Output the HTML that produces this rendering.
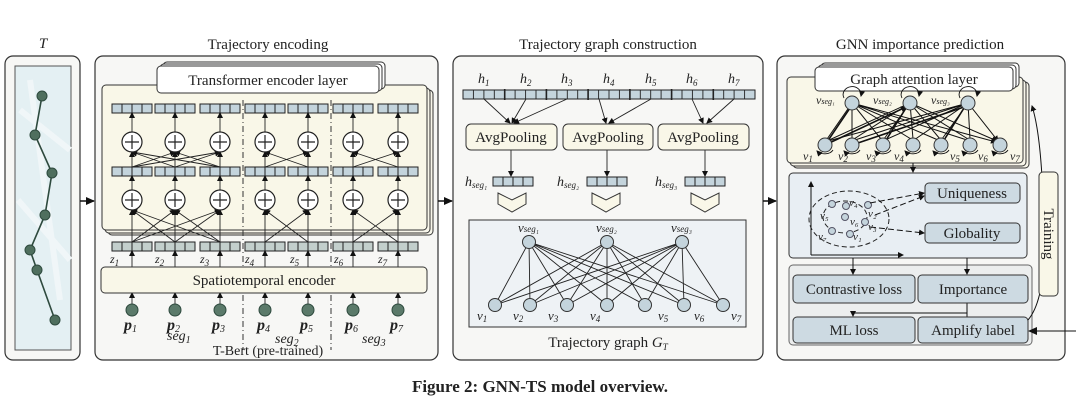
<!DOCTYPE html>
<html><head><meta charset="utf-8"><style>
html,body{margin:0;padding:0;background:#fff;}
svg{display:block;}
text{font-family:"Liberation Serif",serif;fill:#222;}
.i{font-style:italic;}
</style></head><body>
<svg width="1080" height="404" viewBox="0 0 1080 404" xmlns="http://www.w3.org/2000/svg">
<defs>
<g id="v4"><rect width="40" height="9" fill="#c4d4dc" stroke="#222" stroke-width="1"/><path d="M10 0v9M20 0v9M30 0v9" stroke="#222"/></g>
<g id="z4"><rect width="40" height="9" fill="#c3cfcc" stroke="#222" stroke-width="1"/><path d="M10 0v9M20 0v9M30 0v9" stroke="#222"/></g>
<g id="op"><circle r="10" fill="#fff" stroke="#222" stroke-width="1.2"/><path d="M-7 0h14M0 -7v14" stroke="#222" stroke-width="1.2"/></g>
<marker id="a" markerWidth="6" markerHeight="6" refX="5" refY="3" orient="auto" markerUnits="userSpaceOnUse"><path d="M0 0L6 3L0 6z" fill="#111"/></marker>
<marker id="b" markerWidth="9" markerHeight="8" refX="8" refY="4" orient="auto" markerUnits="userSpaceOnUse"><path d="M0 0L9 4L0 8z" fill="#111"/></marker>
</defs>

<!-- Titles -->
<text x="43" y="48" font-size="15" class="i" text-anchor="middle">T</text>
<text x="268" y="49" font-size="15" text-anchor="middle">Trajectory encoding</text>
<text x="608" y="49" font-size="15" text-anchor="middle">Trajectory graph construction</text>
<text x="920" y="49" font-size="15" text-anchor="middle">GNN importance prediction</text>

<!-- Panel T -->
<rect x="5" y="56" width="75" height="304" rx="8" fill="#f7f7f5" stroke="#333" stroke-width="1.2"/>
<rect x="15" y="66" width="56" height="284" fill="#e4f0f3" stroke="#555"/>
<path d="M20 110 L70 150 M18 200 L70 260 M30 80 L60 300" stroke="#f0f6f8" stroke-width="6" fill="none"/>
<polyline points="42,96 35,135 52,173 45,215 30,250 37,270 55,320" fill="none" stroke="#2e4a3e" stroke-width="1.6"/>
<g fill="#4f6f5e" stroke="#2e4a3e"><circle cx="42" cy="96" r="5"/><circle cx="35" cy="135" r="5"/><circle cx="52" cy="173" r="5"/><circle cx="45" cy="215" r="5"/><circle cx="30" cy="250" r="5"/><circle cx="37" cy="270" r="5"/><circle cx="55" cy="320" r="5"/></g>
<line x1="80" y1="201" x2="94" y2="201" stroke="#111" stroke-width="1.5" marker-end="url(#b)"/>

<!-- Panel encoding -->
<rect x="95" y="56" width="343" height="304" rx="8" fill="#f7f7f5" stroke="#333" stroke-width="1.2"/>
<rect x="108" y="90" width="325" height="145" rx="4" fill="#f8f6ea" stroke="#333"/>
<rect x="105" y="88" width="325" height="145" rx="4" fill="#f8f6ea" stroke="#333"/>
<rect x="102" y="85" width="325" height="145" rx="4" fill="#f9f7e8" stroke="#333"/>
<rect x="163" y="62" width="222" height="27" rx="4" fill="#fff" stroke="#333"/>
<rect x="160" y="64" width="222" height="27" rx="4" fill="#fff" stroke="#333"/>
<rect x="157" y="66" width="222" height="27" rx="4" fill="#fff" stroke="#333"/>
<text x="268" y="85" font-size="15" text-anchor="middle">Transformer encoder layer</text>
<path d="M243 100V350M331 100V350" stroke="#333" stroke-dasharray="6,3,1,3" fill="none"/>
<g>
<use href="#v4" x="112" y="104"/><use href="#v4" x="155" y="104"/><use href="#v4" x="200" y="104"/><use href="#v4" x="245" y="104"/><use href="#v4" x="288" y="104"/><use href="#v4" x="333" y="104"/><use href="#v4" x="378" y="104"/>
<use href="#v4" x="112" y="167"/><use href="#v4" x="155" y="167"/><use href="#v4" x="200" y="167"/><use href="#v4" x="245" y="167"/><use href="#v4" x="288" y="167"/><use href="#v4" x="333" y="167"/><use href="#v4" x="378" y="167"/>
<use href="#z4" x="112" y="242"/><use href="#z4" x="155" y="242"/><use href="#z4" x="200" y="242"/><use href="#z4" x="245" y="242"/><use href="#z4" x="288" y="242"/><use href="#z4" x="333" y="242"/><use href="#z4" x="378" y="242"/>
</g>
<g stroke="#222" stroke-width="0.9" fill="none" marker-end="url(#a)">
<line x1="132" y1="132" x2="132" y2="113"/><line x1="175" y1="132" x2="175" y2="113"/><line x1="220" y1="132" x2="220" y2="113"/><line x1="265" y1="132" x2="265" y2="113"/><line x1="308" y1="132" x2="308" y2="113"/><line x1="353" y1="132" x2="353" y2="113"/><line x1="398" y1="132" x2="398" y2="113"/>
<line x1="132" y1="190" x2="132" y2="176"/><line x1="175" y1="190" x2="175" y2="176"/><line x1="220" y1="190" x2="220" y2="176"/><line x1="265" y1="190" x2="265" y2="176"/><line x1="308" y1="190" x2="308" y2="176"/><line x1="353" y1="190" x2="353" y2="176"/><line x1="398" y1="190" x2="398" y2="176"/>
<line x1="132" y1="167" x2="132" y2="152"/><line x1="132" y1="167" x2="175" y2="152"/><line x1="132" y1="167" x2="220" y2="152"/>
<line x1="175" y1="167" x2="132" y2="152"/><line x1="175" y1="167" x2="175" y2="152"/><line x1="175" y1="167" x2="220" y2="152"/>
<line x1="220" y1="167" x2="132" y2="152"/><line x1="220" y1="167" x2="175" y2="152"/><line x1="220" y1="167" x2="220" y2="152"/>
<line x1="265" y1="167" x2="265" y2="152"/><line x1="265" y1="167" x2="308" y2="152"/><line x1="308" y1="167" x2="265" y2="152"/><line x1="308" y1="167" x2="308" y2="152"/>
<line x1="353" y1="167" x2="353" y2="152"/><line x1="353" y1="167" x2="398" y2="152"/><line x1="398" y1="167" x2="353" y2="152"/><line x1="398" y1="167" x2="398" y2="152"/>
<line x1="132" y1="242" x2="132" y2="210"/><line x1="132" y1="242" x2="175" y2="210"/><line x1="132" y1="242" x2="220" y2="210"/>
<line x1="175" y1="242" x2="132" y2="210"/><line x1="175" y1="242" x2="175" y2="210"/><line x1="175" y1="242" x2="220" y2="210"/>
<line x1="220" y1="242" x2="132" y2="210"/><line x1="220" y1="242" x2="175" y2="210"/><line x1="220" y1="242" x2="220" y2="210"/>
<line x1="265" y1="242" x2="265" y2="210"/><line x1="265" y1="242" x2="308" y2="210"/><line x1="308" y1="242" x2="265" y2="210"/><line x1="308" y1="242" x2="308" y2="210"/>
<line x1="353" y1="242" x2="353" y2="210"/><line x1="353" y1="242" x2="398" y2="210"/><line x1="398" y1="242" x2="353" y2="210"/><line x1="398" y1="242" x2="398" y2="210"/>
<line x1="132" y1="267" x2="132" y2="251"/><line x1="175" y1="267" x2="175" y2="251"/><line x1="220" y1="267" x2="220" y2="251"/><line x1="265" y1="267" x2="265" y2="251"/><line x1="308" y1="267" x2="308" y2="251"/><line x1="353" y1="267" x2="353" y2="251"/><line x1="398" y1="267" x2="398" y2="251"/>
<line x1="132" y1="304" x2="132" y2="293"/><line x1="175" y1="304" x2="175" y2="293"/><line x1="220" y1="304" x2="220" y2="293"/><line x1="265" y1="304" x2="265" y2="293"/><line x1="308" y1="304" x2="308" y2="293"/><line x1="353" y1="304" x2="353" y2="293"/><line x1="398" y1="304" x2="398" y2="293"/>
</g>
<use href="#op" x="132" y="142"/><use href="#op" x="175" y="142"/><use href="#op" x="220" y="142"/><use href="#op" x="265" y="142"/><use href="#op" x="308" y="142"/><use href="#op" x="353" y="142"/><use href="#op" x="398" y="142"/>
<use href="#op" x="132" y="200"/><use href="#op" x="175" y="200"/><use href="#op" x="220" y="200"/><use href="#op" x="265" y="200"/><use href="#op" x="308" y="200"/><use href="#op" x="353" y="200"/><use href="#op" x="398" y="200"/>
<g font-size="12" class="i" fill="#555">
<text x="110" y="263">z<tspan font-size="9" dy="3">1</tspan></text><text x="155" y="263">z<tspan font-size="9" dy="3">2</tspan></text><text x="200" y="263">z<tspan font-size="9" dy="3">3</tspan></text><text x="245" y="263">z<tspan font-size="9" dy="3">4</tspan></text><text x="290" y="263">z<tspan font-size="9" dy="3">5</tspan></text><text x="334" y="263">z<tspan font-size="9" dy="3">6</tspan></text><text x="378" y="263">z<tspan font-size="9" dy="3">7</tspan></text>
</g>
<rect x="101" y="267" width="326" height="26" rx="4" fill="#f9f7e8" stroke="#333"/>
<text x="264" y="285" font-size="15" text-anchor="middle">Spatiotemporal encoder</text>
<g fill="#5b7a6a" stroke="#2e4a3e"><circle cx="132" cy="310" r="6"/><circle cx="175" cy="310" r="6"/><circle cx="220" cy="310" r="6"/><circle cx="265" cy="310" r="6"/><circle cx="308" cy="310" r="6"/><circle cx="353" cy="310" r="6"/><circle cx="398" cy="310" r="6"/></g>
<g font-size="16" class="i" font-weight="bold">
<text x="124" y="330">p<tspan font-size="10" dy="2" font-weight="normal">1</tspan></text><text x="167" y="330">p<tspan font-size="10" dy="2" font-weight="normal">2</tspan></text><text x="212" y="330">p<tspan font-size="10" dy="2" font-weight="normal">3</tspan></text><text x="257" y="330">p<tspan font-size="10" dy="2" font-weight="normal">4</tspan></text><text x="300" y="330">p<tspan font-size="10" dy="2" font-weight="normal">5</tspan></text><text x="345" y="330">p<tspan font-size="10" dy="2" font-weight="normal">6</tspan></text><text x="390" y="330">p<tspan font-size="10" dy="2" font-weight="normal">7</tspan></text>
</g>
<g font-size="14" class="i"><text x="167" y="340">seg<tspan font-size="10" dy="3">1</tspan></text><text x="275" y="343">seg<tspan font-size="10" dy="3">2</tspan></text><text x="362" y="343">seg<tspan font-size="10" dy="3">3</tspan></text></g>
<text x="268" y="355" font-size="14" text-anchor="middle">T-Bert (pre-trained)</text>
<line x1="438" y1="201" x2="452" y2="201" stroke="#111" stroke-width="1.5" marker-end="url(#b)"/>

<!-- Panel graph construction -->
<rect x="453" y="56" width="310" height="304" rx="8" fill="#f7f7f5" stroke="#333" stroke-width="1.2"/>
<g font-size="14" class="i">
<text x="478" y="83">h<tspan font-size="9" dy="3">1</tspan></text><text x="520" y="83">h<tspan font-size="9" dy="3">2</tspan></text><text x="561" y="83">h<tspan font-size="9" dy="3">3</tspan></text><text x="603" y="83">h<tspan font-size="9" dy="3">4</tspan></text><text x="645" y="83">h<tspan font-size="9" dy="3">5</tspan></text><text x="686" y="83">h<tspan font-size="9" dy="3">6</tspan></text><text x="728" y="83">h<tspan font-size="9" dy="3">7</tspan></text>
</g>
<rect x="463" y="90" width="292" height="9" fill="#c4d4dc" stroke="#222"/>
<path d="M473.4 90v9M483.9 90v9M494.3 90v9M504.7 90v9M515.1 90v9M525.6 90v9M536 90v9M546.4 90v9M556.9 90v9M567.3 90v9M577.7 90v9M588.1 90v9M598.6 90v9M609 90v9M619.4 90v9M629.9 90v9M640.3 90v9M650.7 90v9M661.1 90v9M671.6 90v9M682 90v9M692.4 90v9M702.9 90v9M713.3 90v9M723.7 90v9M734.1 90v9M744.6 90v9" stroke="#222" stroke-width="0.9"/>
<path d="M504.7 89v11M546.4 89v11M588.1 89v11M629.9 89v11M671.6 89v11M713.3 89v11" stroke="#222" stroke-width="1.6"/>
<g stroke="#222" stroke-width="0.9" marker-end="url(#a)">
<line x1="484" y1="99" x2="510" y2="123"/><line x1="526" y1="99" x2="512" y2="123"/><line x1="567" y1="99" x2="514" y2="123"/>
<line x1="599" y1="99" x2="606" y2="123"/><line x1="651" y1="99" x2="609" y2="123"/>
<line x1="692" y1="99" x2="703" y2="123"/><line x1="734" y1="99" x2="707" y2="123"/>
<line x1="511" y1="150" x2="511" y2="176"/><line x1="607" y1="150" x2="607" y2="176"/><line x1="705" y1="150" x2="705" y2="176"/>
</g>
<g fill="#f9f7e8" stroke="#333"><rect x="466" y="124" width="91" height="26" rx="5"/><rect x="563" y="124" width="90" height="26" rx="5"/><rect x="658" y="124" width="91" height="26" rx="5"/></g>
<g font-size="15" text-anchor="middle"><text x="511" y="142">AvgPooling</text><text x="608" y="142">AvgPooling</text><text x="703" y="142">AvgPooling</text></g>
<use href="#v4" x="493" y="177"/><use href="#v4" x="587" y="177"/><use href="#v4" x="685" y="177"/>
<g font-size="14" class="i"><text x="465" y="186">h<tspan font-size="9" dy="2">seg₁</tspan></text><text x="557" y="186">h<tspan font-size="9" dy="2">seg₂</tspan></text><text x="655" y="186">h<tspan font-size="9" dy="2">seg₃</tspan></text></g>
<g fill="#f9f7e8" stroke="#333"><path d="M498 193 L512 200 L526 193 L526 204 L512 212 L498 204Z"/><path d="M592 193 L606 200 L620 193 L620 204 L606 212 L592 204Z"/><path d="M691 193 L705 200 L719 193 L719 204 L705 212 L691 204Z"/></g>
<rect x="469" y="220" width="277" height="107" fill="#eef2f5" stroke="#333"/>
<g stroke="#222" stroke-width="0.9">
<path d="M529 242L495 305M529 242L530 305M529 242L567 305M529 242L607 305M529 242L645 305M529 242L684 305M529 242L723 305"/>
<path d="M607 242L495 305M607 242L530 305M607 242L567 305M607 242L607 305M607 242L645 305M607 242L684 305M607 242L723 305"/>
<path d="M682 242L495 305M682 242L530 305M682 242L567 305M682 242L607 305M682 242L645 305M682 242L684 305M682 242L723 305"/>
</g>
<g fill="#c4d4dc" stroke="#333"><circle cx="529" cy="242" r="6.5"/><circle cx="607" cy="242" r="6.5"/><circle cx="682" cy="242" r="6.5"/>
<circle cx="495" cy="305" r="6.5"/><circle cx="530" cy="305" r="6.5"/><circle cx="567" cy="305" r="6.5"/><circle cx="607" cy="305" r="6.5"/><circle cx="645" cy="305" r="6.5"/><circle cx="684" cy="305" r="6.5"/><circle cx="723" cy="305" r="6.5"/></g>
<g font-size="13" class="i"><text x="518" y="232">v<tspan font-size="9">seg₁</tspan></text><text x="596" y="232">v<tspan font-size="9">seg₂</tspan></text><text x="671" y="232">v<tspan font-size="9">seg₃</tspan></text>
<text x="477" y="320">v<tspan font-size="9" dy="2">1</tspan></text><text x="513" y="320">v<tspan font-size="9" dy="2">2</tspan></text><text x="548" y="320">v<tspan font-size="9" dy="2">3</tspan></text><text x="590" y="320">v<tspan font-size="9" dy="2">4</tspan></text><text x="658" y="320">v<tspan font-size="9" dy="2">5</tspan></text><text x="694" y="320">v<tspan font-size="9" dy="2">6</tspan></text><text x="731" y="320">v<tspan font-size="9" dy="2">7</tspan></text></g>
<text x="608" y="347" font-size="15" text-anchor="middle">Trajectory graph <tspan class="i">G</tspan><tspan class="i" font-size="9" dy="3">T</tspan></text>
<line x1="763" y1="201" x2="776" y2="201" stroke="#111" stroke-width="1.5" marker-end="url(#b)"/>

<!-- Panel GNN -->
<rect x="777" y="56" width="288" height="304" rx="8" fill="#f7f7f5" stroke="#333" stroke-width="1.2"/>
<rect x="793" y="82" width="236" height="86" rx="4" fill="#f8f6ea" stroke="#333"/>
<rect x="790" y="80" width="236" height="86" rx="4" fill="#f8f6ea" stroke="#333"/>
<rect x="787" y="77" width="236" height="86" rx="4" fill="#f9f7e8" stroke="#333"/>
<rect x="821" y="63" width="198" height="24" rx="4" fill="#fff" stroke="#333"/>
<rect x="818" y="65" width="198" height="24" rx="4" fill="#fff" stroke="#333"/>
<rect x="815" y="67" width="198" height="24" rx="4" fill="#fff" stroke="#333"/>
<text x="914" y="84" font-size="15" text-anchor="middle">Graph attention layer</text>
<g stroke="#111" stroke-width="1" marker-end="url(#a)">
<path d="M852 103L825 142M852 103L852 139M852 103L881 139M852 103L911 139M852 103L938 140M852 103L967 140M852 103L996 142"/>
<path d="M910 103L827 141M910 103L854 139M910 103L884 139M910 103L913 139M910 103L940 139M910 103L968 139M910 103L997 141"/>
<path d="M968 103L828 141M968 103L855 140M968 103L885 140M968 103L914 140M968 103L942 139M968 103L970 139M968 103L998 141"/>
<path d="M825 145L850 108M883 145L906 108M941 145L964 108M852 145L964 107M825 145L906 107" stroke-width="1.6"/>
</g>
<g fill="none" stroke="#111" stroke-width="0.9" marker-end="url(#a)">
<path d="M844 98 A9 8 0 1 1 861 96"/><path d="M902 98 A9 8 0 1 1 919 96"/><path d="M960 98 A9 8 0 1 1 977 96"/>
<path d="M833 150 A9 6 0 0 1 817 151"/><path d="M860 150 A9 6 0 0 1 844 151"/><path d="M891 150 A9 6 0 0 1 875 151"/><path d="M921 150 A9 6 0 0 1 905 151"/><path d="M949 150 A9 6 0 0 1 933 151"/><path d="M978 150 A9 6 0 0 1 962 151"/><path d="M1008 150 A9 6 0 0 1 992 151"/>
</g>
<g fill="#c4d4dc" stroke="#333"><circle cx="852" cy="103" r="7"/><circle cx="910" cy="103" r="7"/><circle cx="968" cy="103" r="7"/>
<circle cx="825" cy="145" r="7"/><circle cx="852" cy="145" r="7"/><circle cx="883" cy="145" r="7"/><circle cx="913" cy="145" r="7"/><circle cx="941" cy="145" r="7"/><circle cx="970" cy="145" r="7"/><circle cx="1000" cy="145" r="7"/></g>
<g font-size="12" class="i"><text x="816" y="104">v<tspan font-size="8">seg₁</tspan></text><text x="873" y="104">v<tspan font-size="8">seg₂</tspan></text><text x="931" y="104">v<tspan font-size="8">seg₃</tspan></text>
<text x="803" y="160">v<tspan font-size="9" dy="2">1</tspan></text><text x="838" y="160">v<tspan font-size="9" dy="2">2</tspan></text><text x="866" y="160">v<tspan font-size="9" dy="2">3</tspan></text><text x="894" y="160">v<tspan font-size="9" dy="2">4</tspan></text><text x="950" y="160">v<tspan font-size="9" dy="2">5</tspan></text><text x="978" y="160">v<tspan font-size="9" dy="2">6</tspan></text><text x="1010" y="160">v<tspan font-size="9" dy="2">7</tspan></text></g>
<line x1="913" y1="163" x2="913" y2="172" stroke="#111" marker-end="url(#a)"/>
<rect x="789" y="173" width="238" height="85" rx="4" fill="#e8eef3" stroke="#333"/>
<g stroke="#111" fill="none" stroke-width="1"><path d="M811 255V182" marker-end="url(#a)"/><path d="M811 255H903" marker-end="url(#a)"/></g>
<g fill="none" stroke="#222" stroke-dasharray="5,3"><ellipse cx="849" cy="219" rx="40" ry="28"/><ellipse cx="845" cy="217" rx="22" ry="16"/></g>
<g fill="#c4d4dc" stroke="#556"><circle cx="832" cy="204" r="3.5"/><circle cx="846" cy="206" r="3.5"/><circle cx="868" cy="205" r="3.5"/><circle cx="845" cy="217" r="3.5"/><circle cx="865" cy="222" r="3.5"/><circle cx="832" cy="231" r="3.5"/><circle cx="850" cy="234" r="3.5"/></g>
<g font-size="11" class="i"><text x="849" y="206">v₄</text><text x="820" y="219">v₅</text><text x="868" y="217">v₂</text><text x="850" y="225">v₆</text><text x="818" y="240">v₇</text><text x="853" y="240">v₁</text><text x="868" y="230">v₃</text></g>
<g stroke="#111" fill="none" stroke-dasharray="6,3" marker-end="url(#a)"><path d="M870 203L924 193"/><path d="M875 215L924 196"/><path d="M870 227L924 233"/></g>
<g fill="#cddae2" stroke="#333"><rect x="925" y="183" width="95" height="20" rx="4"/><rect x="925" y="223" width="95" height="20" rx="4"/></g>
<g font-size="15" text-anchor="middle"><text x="972" y="198">Uniqueness</text><text x="972" y="238">Globality</text></g>
<rect x="789" y="265" width="243" height="80" rx="4" fill="#eceeee" stroke="#666"/>
<g stroke="#111" marker-end="url(#a)"><line x1="853" y1="258" x2="853" y2="274"/><line x1="967" y1="258" x2="967" y2="274"/></g>
<path d="M967 303V313H853V316" stroke="#111" fill="none" marker-end="url(#a)"/>
<line x1="967" y1="313" x2="967" y2="317" stroke="#111"/>
<g fill="#cddae2" stroke="#333"><rect x="793" y="275" width="122" height="28" rx="4"/><rect x="918" y="275" width="110" height="28" rx="4"/><rect x="793" y="317" width="122" height="26" rx="4"/><rect x="918" y="317" width="110" height="26" rx="4"/></g>
<g font-size="15" text-anchor="middle"><text x="854" y="294">Contrastive loss</text><text x="973" y="294">Importance</text><text x="854" y="335">ML loss</text><text x="973" y="335">Amplify label</text></g>
<line x1="1076" y1="331" x2="1029" y2="331" stroke="#111" marker-end="url(#b)"/>
<path d="M1028 320 Q1045 300 1044 240 Q1043 140 1032 106" fill="none" stroke="#111" marker-end="url(#a)"/>
<rect x="1039" y="172" width="19" height="124" rx="4" fill="#f9f7e8" stroke="#333"/>
<text x="0" y="0" font-size="15" text-anchor="middle" transform="translate(1044,234) rotate(90)">Training</text>

<text x="540" y="392" font-size="17" font-weight="bold" text-anchor="middle">Figure 2: GNN-TS model overview.</text>
</svg>
</body></html>
